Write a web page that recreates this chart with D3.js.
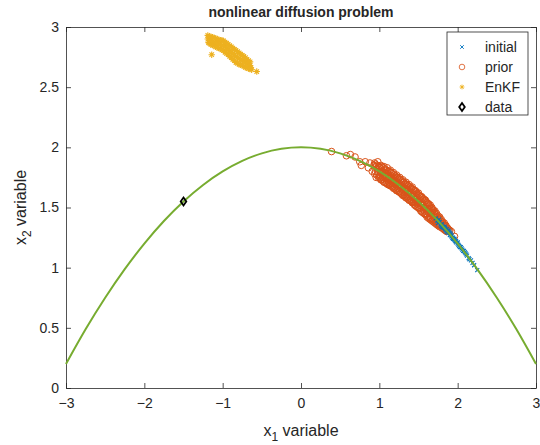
<!DOCTYPE html>
<html>
<head>
<meta charset="utf-8">
<script src="https://cdn.jsdelivr.net/npm/d3@7"></script>
<style>
  body { margin: 0; background: #fff; }
  text { font-family: "Liberation Sans", Arial, sans-serif; fill: #262626; }
</style>
</head>
<body>
<svg id="chart"></svg>
<script>
// values
const xTicks = [-3, -2, -1, 0, 1, 2, 3];
const yTicks = [0, 0.5, 1, 1.5, 2, 2.5, 3];

// green curve, sampled from the plot
const curveX = [-3, -2.75, -2.5, -2.25, -2, -1.75, -1.5, -1.25, -1, -0.75, -0.5, -0.25, 0,
  0.25, 0.5, 0.75, 1, 1.25, 1.5, 1.75, 2, 2.25, 2.5, 2.75, 3];
const curveY = [0.2, 0.4875, 0.75, 0.9875, 1.2, 1.3875, 1.55, 1.6875, 1.8, 1.8875, 1.95, 1.9875, 2,
  1.9875, 1.95, 1.8875, 1.8, 1.6875, 1.55, 1.3875, 1.2, 0.9875, 0.75, 0.4875, 0.2];

const dataPoint = [[-1.5, 1.55]];

const initial = [[1.72,1.41],[1.74,1.39],[1.75,1.37],[1.77,1.38],[1.78,1.36],[1.79,1.35],[1.80,1.36],
  [1.81,1.34],[1.82,1.33],[1.83,1.34],[1.84,1.32],[1.85,1.31],[1.86,1.32],[1.87,1.30],[1.88,1.29],
  [1.89,1.30],[1.90,1.27],[1.91,1.28],[1.92,1.26],[1.93,1.25],[1.94,1.25],[1.95,1.24],[1.96,1.23],
  [1.97,1.22],[1.98,1.22],[2.00,1.20],[2.01,1.19],[2.03,1.17],[2.04,1.17],[2.06,1.15],[2.08,1.14],
  [2.10,1.12],[2.12,1.10],[2.15,1.07],[2.19,1.04],[2.25,0.98],
  [1.76,1.40],[1.80,1.34],[1.84,1.33],[1.86,1.30],[1.88,1.31],[1.90,1.29],[1.92,1.27],[1.94,1.24],
  [1.96,1.24],[1.98,1.21],[2.00,1.21],[2.02,1.18],[2.05,1.16],[2.07,1.14],[2.09,1.13],[2.11,1.11],
  [2.14,1.08],[2.17,1.06],[2.21,1.02]];

const prior = [[0.39,1.965],[0.58,1.93],[0.63,1.94],[0.69,1.92],[0.75,1.88],[0.77,1.85],[0.82,1.88],
  [0.86,1.83],[0.88,1.87],[0.91,1.80],[0.93,1.85],
  [0.94,1.87],[0.94,1.78],[0.96,1.84],[0.96,1.75],[0.98,1.88],[0.98,1.80],[1.00,1.76],[1.00,1.84],
  [1.02,1.85],[1.02,1.73],[1.02,1.79],[1.04,1.79],[1.04,1.75],[1.06,1.84],[1.06,1.71],[1.06,1.77],
  [1.08,1.81],[1.08,1.74],[1.10,1.83],[1.10,1.70],[1.10,1.76],[1.12,1.77],[1.12,1.71],[1.14,1.81],
  [1.14,1.68],[1.14,1.74],[1.16,1.76],[1.16,1.70],[1.18,1.79],[1.18,1.66],[1.18,1.72],[1.20,1.74],
  [1.20,1.67],[1.22,1.77],[1.22,1.64],[1.22,1.70],[1.24,1.73],[1.24,1.66],[1.26,1.75],[1.26,1.63],
  [1.26,1.68],[1.28,1.71],[1.28,1.62],[1.30,1.73],[1.30,1.60],[1.30,1.66],[1.32,1.69],[1.32,1.61],
  [1.34,1.71],[1.34,1.58],[1.34,1.64],[1.36,1.68],[1.36,1.59],[1.38,1.69],[1.38,1.56],[1.38,1.62],
  [1.40,1.66],[1.40,1.57],[1.42,1.67],[1.42,1.54],[1.42,1.60],[1.44,1.64],[1.44,1.55],[1.46,1.64],
  [1.46,1.52],[1.46,1.57],[1.48,1.62],[1.48,1.53],[1.50,1.62],[1.50,1.50],[1.50,1.55],[1.52,1.59],
  [1.52,1.50],[1.54,1.59],[1.54,1.47],[1.54,1.53],[1.56,1.57],[1.56,1.48],[1.58,1.56],[1.58,1.45],
  [1.58,1.50],[1.60,1.54],[1.60,1.45],[1.62,1.53],[1.62,1.43],[1.62,1.48],[1.64,1.51],[1.64,1.42],
  [1.66,1.49],[1.66,1.41],[1.66,1.45],[1.68,1.48],[1.68,1.40],[1.70,1.46],[1.70,1.39],[1.70,1.42],
  [1.72,1.44],[1.72,1.38],[1.74,1.42],[1.74,1.37],[1.76,1.41],[1.76,1.36],[1.78,1.39],[1.78,1.35],
  [1.80,1.38],[1.80,1.33],[1.82,1.36],[1.82,1.32],[1.84,1.35],[1.84,1.31],[1.86,1.33],[1.86,1.30],
  [1.88,1.32],[1.90,1.31],[1.92,1.30],[1.96,1.26],
  [0.95,1.86],[0.95,1.80],[0.97,1.85],[0.97,1.77],[0.97,1.82],[0.99,1.84],[0.99,1.75],
  [1.01,1.83],[1.01,1.77],[1.01,1.74],[1.03,1.84],[1.03,1.80],[1.03,1.73],[1.05,1.83],[1.05,1.76],
  [1.05,1.72],[1.07,1.82],[1.07,1.79],[1.07,1.71],[1.09,1.81],[1.09,1.74],[1.09,1.70],[1.11,1.80],
  [1.11,1.77],[1.11,1.69],[1.13,1.80],[1.13,1.73],[1.13,1.69],[1.15,1.79],[1.15,1.75],[1.15,1.68],
  [1.17,1.78],[1.17,1.71],[1.17,1.67],[1.19,1.77],[1.19,1.73],[1.19,1.66],[1.21,1.76],[1.21,1.69],
  [1.21,1.65],[1.23,1.75],[1.23,1.71],[1.23,1.64],[1.25,1.74],[1.25,1.67],[1.25,1.63],[1.27,1.73],
  [1.27,1.69],[1.27,1.62],[1.29,1.72],[1.29,1.65],[1.29,1.61],[1.31,1.71],[1.31,1.67],[1.31,1.60],
  [1.33,1.70],[1.33,1.63],[1.33,1.59],[1.35,1.69],[1.35,1.65],[1.35,1.58],[1.37,1.68],[1.37,1.61],
  [1.37,1.57],[1.39,1.67],[1.39,1.63],[1.39,1.56],[1.41,1.66],[1.41,1.59],[1.41,1.55],[1.43,1.65],
  [1.43,1.61],[1.43,1.54],[1.45,1.64],[1.45,1.57],[1.45,1.52],[1.47,1.63],[1.47,1.59],[1.47,1.51],
  [1.49,1.61],[1.49,1.54],[1.49,1.50],[1.51,1.60],[1.51,1.56],[1.51,1.49],[1.53,1.59],[1.53,1.52],
  [1.53,1.47],[1.55,1.58],[1.55,1.54],[1.55,1.46],[1.57,1.57],[1.57,1.50],[1.57,1.45],[1.59,1.56],
  [1.59,1.51],[1.59,1.44],[1.61,1.54],[1.61,1.47],[1.61,1.42],[1.63,1.53],[1.63,1.49],[1.63,1.41],
  [1.65,1.52],[1.65,1.45],[1.65,1.40],[1.67,1.50],[1.67,1.46],[1.67,1.39],[1.69,1.48],[1.69,1.42],
  [1.69,1.38],[1.71,1.47],[1.71,1.43],[1.71,1.37],[1.73,1.45],[1.73,1.39],[1.73,1.36],[1.75,1.43],
  [1.75,1.40],[1.75,1.35],[1.77,1.42],[1.77,1.36],[1.77,1.34],[1.79,1.40],[1.79,1.37],[1.81,1.38],
  [1.81,1.33],[1.83,1.37],[1.83,1.34],[1.85,1.35],[1.85,1.31],[1.87,1.33],[1.89,1.31]];

const enkf = [[-1.19,2.93],[-1.19,2.90],[-1.18,2.87],
  [-1.17,2.92],[-1.17,2.89],[-1.17,2.865],[-1.15,2.92],[-1.15,2.885],[-1.15,2.855],
  [-1.13,2.915],[-1.13,2.88],[-1.13,2.85],[-1.11,2.91],[-1.11,2.875],[-1.11,2.845],
  [-1.09,2.905],[-1.09,2.87],[-1.09,2.835],[-1.07,2.90],[-1.07,2.865],[-1.07,2.83],
  [-1.05,2.895],[-1.05,2.86],[-1.05,2.825],[-1.03,2.89],[-1.03,2.855],[-1.03,2.82],
  [-1.01,2.89],[-1.01,2.85],[-1.01,2.81],[-0.99,2.885],[-0.99,2.845],[-0.99,2.805],
  [-0.97,2.875],[-0.97,2.835],[-0.97,2.79],[-0.95,2.865],[-0.95,2.825],[-0.95,2.78],
  [-0.93,2.855],[-0.93,2.81],[-0.93,2.77],[-0.91,2.845],[-0.91,2.80],[-0.91,2.755],
  [-0.89,2.835],[-0.89,2.79],[-0.89,2.745],[-0.87,2.825],[-0.87,2.78],[-0.87,2.73],
  [-0.85,2.815],[-0.85,2.765],[-0.85,2.72],[-0.83,2.805],[-0.83,2.755],[-0.83,2.705],
  [-0.81,2.795],[-0.81,2.745],[-0.81,2.70],[-0.79,2.785],[-0.79,2.74],[-0.79,2.69],
  [-0.77,2.775],[-0.77,2.73],[-0.77,2.685],[-0.75,2.765],[-0.75,2.72],[-0.75,2.68],
  [-0.73,2.755],[-0.73,2.715],[-0.73,2.675],[-0.71,2.745],[-0.71,2.705],[-0.71,2.665],
  [-0.69,2.73],[-0.69,2.695],[-0.69,2.66],[-0.67,2.72],[-0.67,2.69],[-0.67,2.655],
  [-0.65,2.71],[-0.65,2.68],[-0.65,2.65],[-0.64,2.66],[-0.63,2.645],
  [-1.14,2.77],[-0.565,2.63]];

const legendNames = ["initial", "prior", "EnKF", "data"];

// colours as in matlab's default order
const cBlue = "#0072BD", cOrange = "#D95319", cYellow = "#EDB120", cGreen = "#77AC30";

const W = 540, H = 445;
const margin = { top: 27, right: 4, bottom: 57, left: 66 };
const width = W - margin.left - margin.right,
  height = H - margin.top - margin.bottom;

const svg = d3.select("#chart").attr("width", W).attr("height", H);
const g = svg.append("g").attr("transform", `translate(${margin.left},${margin.top})`);

const x = d3.scaleLinear().domain([-3, 3]).range([0, width]);
const y = d3.scaleLinear().domain([0, 3]).range([height, 0]);

// axes, ticks pointing inwards on all four sides
const axisStyle = function (sel) {
  sel.select(".domain").attr("stroke", "#262626").attr("stroke-width", 0.8);
  sel.selectAll(".tick line").attr("stroke", "#262626").attr("stroke-width", 0.8);
  sel.selectAll("text").style("font-size", "14px").attr("fill", "#262626");
};
g.append("g").attr("transform", `translate(0,${height})`)
  .call(d3.axisBottom(x).tickValues(xTicks).tickSizeInner(-5).tickSizeOuter(0).tickPadding(10)
    .tickFormat(d3.format("d")))
  .call(axisStyle);
g.append("g")
  .call(d3.axisLeft(y).tickValues(yTicks).tickSizeInner(-5).tickSizeOuter(0).tickPadding(7)
    .tickFormat(d => String(d)))
  .call(axisStyle);
g.append("g")
  .call(d3.axisTop(x).tickValues(xTicks).tickSizeInner(-5).tickSizeOuter(0).tickFormat(""))
  .call(axisStyle);
g.append("g").attr("transform", `translate(${width},0)`)
  .call(d3.axisRight(y).tickValues(yTicks).tickSizeInner(-5).tickSizeOuter(0).tickFormat(""))
  .call(axisStyle);

// marker helpers
const crossPath = s => `M${-s},${-s}L${s},${s}M${-s},${s}L${s},${-s}`;
const starPath = s => `M${-s},0L${s},0M0,${-s}L0,${s}M${-s * 0.7},${-s * 0.7}L${s * 0.7},${s * 0.7}M${-s * 0.7},${s * 0.7}L${s * 0.7},${-s * 0.7}`;
const diamondPath = (w, h) => `M0,${-h}L${w},0L0,${h}L${-w},0Z`;

// prior circles
g.append("g").selectAll("circle").data(prior).enter().append("circle")
  .attr("cx", d => x(d[0])).attr("cy", d => y(d[1])).attr("r", 3.3)
  .attr("fill", "none").attr("stroke", cOrange).attr("stroke-width", 1);

// initial crosses
g.append("g").selectAll("path").data(initial).enter().append("path")
  .attr("transform", d => `translate(${x(d[0])},${y(d[1])})`)
  .attr("d", crossPath(2)).attr("stroke", cBlue).attr("stroke-width", 1.1).attr("fill", "none");

// curve
const line = d3.line().x(d => x(d[0])).y(d => y(d[1])).curve(d3.curveNatural);
g.append("path").datum(curveX.map((v, i) => [v, curveY[i]]))
  .attr("d", line).attr("fill", "none").attr("stroke", cGreen).attr("stroke-width", 2);

// EnKF asterisks
g.append("g").selectAll("path").data(enkf).enter().append("path")
  .attr("transform", d => `translate(${x(d[0])},${y(d[1])})`)
  .attr("d", starPath(3.2)).attr("stroke", cYellow).attr("stroke-width", 1.1).attr("fill", "none");

// data diamond
g.append("g").selectAll("path").data(dataPoint).enter().append("path")
  .attr("transform", d => `translate(${x(d[0])},${y(d[1])})`)
  .attr("d", diamondPath(2.8, 4)).attr("stroke", "#000").attr("stroke-width", 1.8).attr("fill", "none");

// title and labels
svg.append("text").attr("x", margin.left + width / 2).attr("y", 17).attr("text-anchor", "middle")
  .style("font-size", "14px").style("font-weight", "bold").attr("fill", "#000")
  .text("nonlinear diffusion problem");

const xl = svg.append("text").attr("x", margin.left + width / 2).attr("y", 436)
  .attr("text-anchor", "middle").style("font-size", "16px");
xl.append("tspan").text("x");
xl.append("tspan").attr("dy", 5).style("font-size", "12px").text("1");
xl.append("tspan").attr("dy", -5).text(" variable");

const yl = svg.append("text")
  .attr("transform", `translate(26,${margin.top + height / 2}) rotate(-90)`)
  .attr("text-anchor", "middle").style("font-size", "16px");
yl.append("tspan").text("x");
yl.append("tspan").attr("dy", 5).style("font-size", "12px").text("2");
yl.append("tspan").attr("dy", -5).text(" variable");

// legend
const lg = svg.append("g").attr("transform", "translate(447,32)");
lg.append("rect").attr("width", 81).attr("height", 83)
  .attr("fill", "#fff").attr("stroke", "#262626").attr("stroke-width", 0.8);
legendNames.forEach(function (name, i) {
  const cy = 15 + i * 20, cx = 15;
  const m = lg.append("g").attr("transform", `translate(${cx},${cy})`);
  if (i === 0) m.append("path").attr("d", crossPath(1.8)).attr("stroke", cBlue).attr("stroke-width", 0.9);
  if (i === 1) m.append("circle").attr("r", 2.8).attr("fill", "none").attr("stroke", cOrange).attr("stroke-width", 0.8);
  if (i === 2) m.append("path").attr("d", starPath(2.4)).attr("stroke", cYellow).attr("stroke-width", 0.9);
  if (i === 3) m.append("path").attr("d", diamondPath(2.8, 4)).attr("fill", "none").attr("stroke", "#000").attr("stroke-width", 1.8);
  lg.append("text").attr("x", 38).attr("y", cy + 5).style("font-size", "14px").attr("fill", "#000").text(name);
});
</script>
</body>
</html>
